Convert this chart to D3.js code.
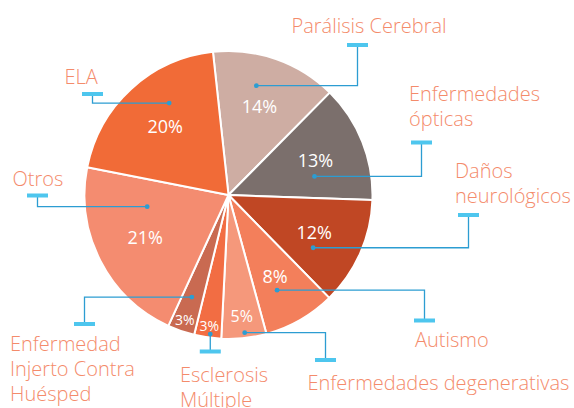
<!DOCTYPE html>
<html>
<head>
<meta charset="utf-8">
<script src="https://cdn.jsdelivr.net/npm/d3@7"></script>
<style>
  html, body { margin: 0; padding: 0; background: #fff; }
  svg { display: block; }
</style>
</head>
<body>
<div id="chart"></div>
<script>
// data (clockwise, starting just left of 12 o'clock)
var categories = ['Parálisis Cerebral', 'Enfermedades ópticas', 'Daños neurológicos', 'Autismo',
  'Enfermedades degenerativas', 'Esclerosis Múltiple', 'Enfermedad Injerto Contra Huésped', 'Otros', 'ELA'];
var values = [14, 13, 12, 8, 5, 3, 3, 21, 20];
var pctLabels = ['14%', '13%', '12%', '8%', '5%', '3%', '3%', '21%', '20%'];
var colors = ['#CEADA3', '#7B6F6C', '#C04724', '#F37F5B', '#F5987B', '#F26D43', '#C96A51', '#F48C70', '#F16B37'];

// callout layout: text lines, dot offset from the % label, elbow x, cap y, text x, first baseline
var callouts = {
  'Parálisis Cerebral':         { lines: ['Parálisis Cerebral'], dot: [-3, -21], ex: 357.5, cy: 45, tx: 291.5, ty: 33 },
  'Enfermedades ópticas':       { lines: ['Enfermedades', 'ópticas'], dot: [-1, 16], ex: 421.5, cy: 142.5, tx: 409, ty: 100.5 },
  'Daños neurológicos':         { lines: ['Daños', 'neurológicos'], dot: [-1, 15], ex: 468.5, cy: 215, tx: 455, ty: 177.5 },
  'Autismo':                    { lines: ['Autismo'], dot: [2, 14], ex: 424.5, cy: 320.5, tx: 415, ty: 346.5 },
  'Enfermedades degenerativas': { lines: ['Enfermedades degenerativas'], dot: [3, 16], ex: 325.5, cy: 360, tx: 307.5, ty: 389.5 },
  'Esclerosis Múltiple':        { lines: ['Esclerosis', 'Múltiple'], dot: [1, 8], ex: null, cy: 351.5, tx: 180, ty: 381.5 },
  'Enfermedad Injerto Contra Huésped': { lines: ['Enfermedad', 'Injerto Contra', 'Huésped'], dot: [7, -23], ex: 84.5, cy: 324, tx: 10, ty: 350.5 },
  'Otros':                      { lines: ['Otros'], dot: [2, -31], ex: 37.5, cy: 195.5, tx: 12.5, ty: 186 },
  'ELA':                        { lines: ['ELA'], dot: [4, -23], ex: 92.5, cy: 94, tx: 64.5, ty: 83.5 }
};

var w = 574, h = 408;
var cx = 228.5, cy = 195, R = 144;
var start = -6.2 * Math.PI / 180;
var lineColor = '#2C9DD2', capColor = '#4EC6EE', textColor = '#F48B6B';
var font = '"Open Sans", "Noto Sans", sans-serif';

var svg = d3.select('#chart').append('svg')
  .attr('width', w)
  .attr('height', h);

var pie = d3.pie()
  .sort(null)
  .value(function(d) { return d.value; })
  .startAngle(start)
  .endAngle(start + 2 * Math.PI);

var data = categories.map(function(c, i) {
  return { name: c, value: values[i], label: pctLabels[i], color: colors[i] };
});
var arcs = pie(data);

var arc = d3.arc().innerRadius(0).outerRadius(R);

var g = svg.append('g').attr('transform', 'translate(' + cx + ',' + cy + ')');

g.selectAll('path.slice')
  .data(arcs)
  .enter().append('path')
  .attr('class', 'slice')
  .attr('d', arc)
  .attr('fill', function(d) { return d.data.color; })
  .attr('stroke', '#fff')
  .attr('stroke-width', 2)
  .attr('stroke-linejoin', 'round');

// % label position: smaller slices get pushed out towards the rim
function labelPos(d) {
  var v = d.data.value;
  var r = v >= 8 ? 0.65 * R : (v >= 5 ? 0.85 * R : 0.92 * R);
  var c = d3.arc().innerRadius(r).outerRadius(r).centroid(d);
  return [cx + c[0], cy + c[1]];
}

// callouts first so the % text sits on top
var callG = svg.append('g');
arcs.forEach(function(d) {
  var co = callouts[d.data.name];
  var p = labelPos(d);
  var dx = p[0] + co.dot[0], dy = p[1] + co.dot[1];
  var ex = co.ex == null ? dx : co.ex;

  callG.append('path')
    .attr('d', 'M' + dx + ',' + dy + 'H' + ex + 'V' + co.cy)
    .attr('fill', 'none')
    .attr('stroke', lineColor)
    .attr('stroke-width', 1.3);

  callG.append('circle')
    .attr('cx', dx).attr('cy', dy).attr('r', 2.4)
    .attr('fill', lineColor);

  callG.append('rect')
    .attr('x', ex - 10.5).attr('y', co.cy - 2)
    .attr('width', 21).attr('height', 4)
    .attr('fill', capColor);

  var t = callG.append('text')
    .attr('x', co.tx)
    .attr('y', co.ty)
    .attr('fill', textColor)
    .style('font-family', font)
    .style('font-weight', 300)
    .style('font-size', '20px');
  co.lines.forEach(function(line, i) {
    t.append('tspan')
      .attr('x', co.tx)
      .attr('y', co.ty + i * 25)
      .text(line);
  });
});

g.selectAll('text.pct')
  .data(arcs)
  .enter().append('text')
  .attr('class', 'pct')
  .attr('x', function(d) { return labelPos(d)[0] - cx; })
  .attr('y', function(d) { return labelPos(d)[1] - cy; })
  .attr('dy', '0.36em')
  .attr('text-anchor', 'middle')
  .attr('fill', '#fff')
  .style('font-family', font)
  .style('font-size', function(d) {
    var v = d.data.value;
    return (v >= 8 ? 18 : v >= 5 ? 16 : 14) + 'px';
  })
  .text(function(d) { return d.data.label; });
</script>
</body>
</html>
